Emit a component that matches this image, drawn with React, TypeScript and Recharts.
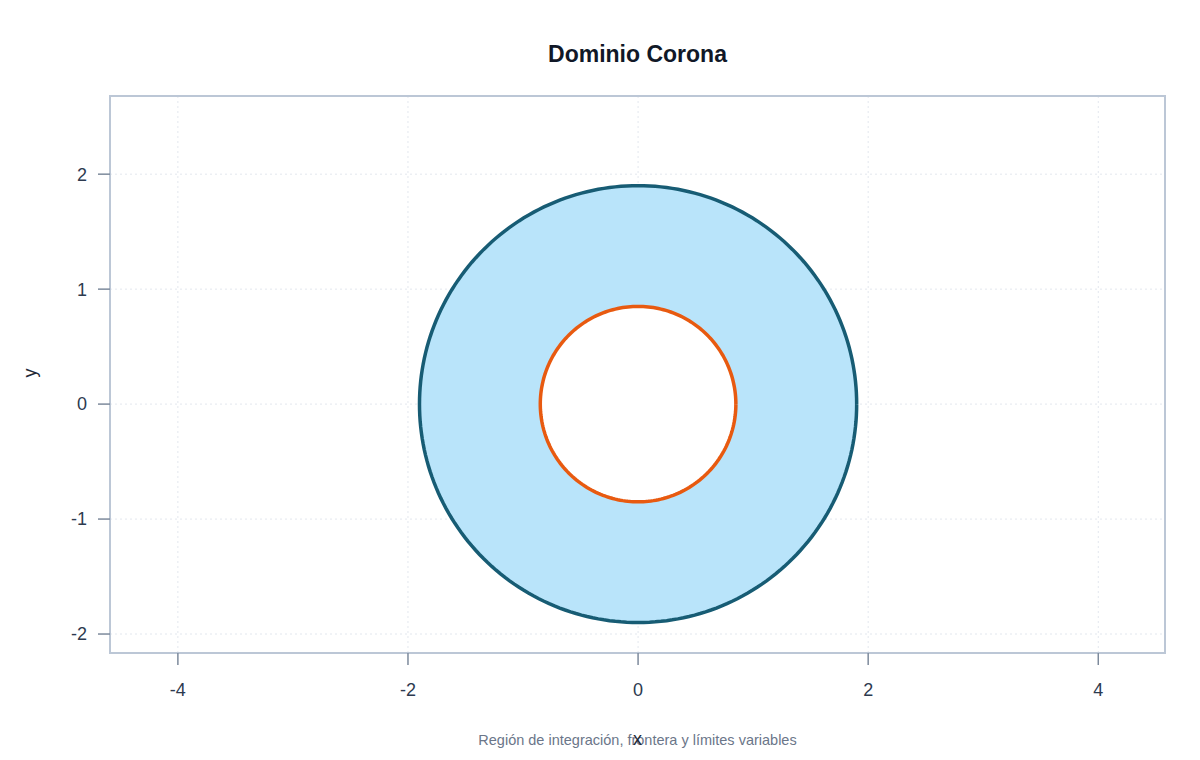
import React from "react";
import {
    ScatterChart,
    Scatter,
    XAxis,
    YAxis,
    CartesianGrid,
    ReferenceArea,
} from "recharts";

// ring geometry (radii)
const centre = [0, 0];
const outerRadius = [1.9];
const innerRadius = [0.85];

const xTicks = [-4, -2, 0, 2, 4];
const yTicks = [-2, -1, 0, 1, 2];
const xDomain = [-4.59, 4.58];
const yDomain = [-2.165, 2.68];

const title = "Dominio Corona";
const subtitle = "Región de integración, frontera y límites variables";

const STEPS = 240;

// outline of a circle of radius r, traced in data units
const circlePoints = (r: number) =>
    Array.from({ length: STEPS + 1 }, (_, i) => {
        const t = (i / STEPS) * 2 * Math.PI;
        return { x: centre[0] + r * Math.cos(t), y: centre[1] + r * Math.sin(t) };
    });

const outerData = circlePoints(outerRadius[0]);
const innerData = circlePoints(innerRadius[0]);

const font = "'Liberation Sans', Arial, Helvetica, sans-serif";
const noDot = () => <g />;

const App: React.FC = () => {
    return (
        <div style={{ position: "relative", width: 1200, height: 760, margin: -8, fontFamily: font }}>
            <ScatterChart
                width={1200}
                height={760}
                margin={{ top: 96, right: 35, bottom: 47, left: 50 }}
            >
                <CartesianGrid stroke="#e3e7ee" strokeDasharray="2 3" />
                <XAxis
                    type="number"
                    dataKey="x"
                    domain={xDomain}
                    ticks={xTicks}
                    allowDataOverflow
                    height={60}
                    axisLine={false}
                    tickSize={12}
                    tickMargin={18}
                    tickLine={{ stroke: "#7d8a9c", strokeWidth: 1.5 }}
                    tick={{ fill: "#2d3a4f", fontSize: 18, fontFamily: font }}
                />
                <YAxis
                    type="number"
                    dataKey="y"
                    domain={yDomain}
                    ticks={yTicks}
                    allowDataOverflow
                    width={60}
                    axisLine={false}
                    tickSize={12}
                    tickMargin={11}
                    tickLine={{ stroke: "#7d8a9c", strokeWidth: 1.5 }}
                    tick={{ fill: "#2d3a4f", fontSize: 18, fontFamily: font }}
                />
                <Scatter
                    data={outerData}
                    isAnimationActive={false}
                    shape={noDot}
                    line={{ fill: "#b9e4fa", stroke: "#175c74", strokeWidth: 3.5 }}
                />
                <Scatter
                    data={innerData}
                    isAnimationActive={false}
                    shape={noDot}
                    line={{ fill: "#ffffff", stroke: "#e85a10", strokeWidth: 3.5 }}
                />
                <ReferenceArea
                    x1={xDomain[0]}
                    x2={xDomain[1]}
                    y1={yDomain[0]}
                    y2={yDomain[1]}
                    fill="none"
                    stroke="#bcc7d6"
                    strokeWidth={2}
                    ifOverflow="visible"
                />
            </ScatterChart>
            <div
                style={{
                    position: "absolute",
                    left: 110,
                    width: 1055,
                    top: 41,
                    textAlign: "center",
                    fontSize: 23,
                    fontWeight: "bold",
                    color: "#111827",
                }}
            >
                {title}
            </div>
            <div
                style={{
                    position: "absolute",
                    left: 110,
                    width: 1055,
                    top: 732,
                    textAlign: "center",
                    fontSize: 14.5,
                    color: "#6b7689",
                }}
            >
                {subtitle}
            </div>
            <div
                style={{
                    position: "absolute",
                    left: 110,
                    width: 1055,
                    top: 729,
                    textAlign: "center",
                    fontSize: 18,
                    color: "#1f2937",
                }}
            >
                x
            </div>
            <div
                style={{
                    position: "absolute",
                    left: 30,
                    top: 373,
                    fontSize: 18,
                    color: "#1f2937",
                    transform: "translate(-50%, -50%) rotate(-90deg)",
                }}
            >
                y
            </div>
        </div>
    );
};

export default App;
